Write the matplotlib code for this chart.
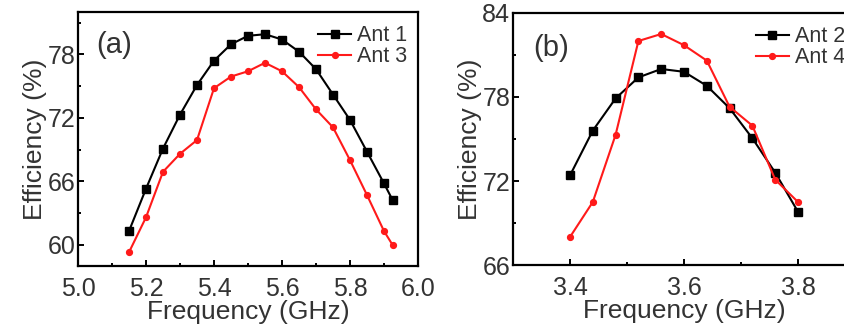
import matplotlib
matplotlib.use("Agg")
import matplotlib.pyplot as plt
from matplotlib.ticker import MultipleLocator

plt.rcParams['font.family'] = ['Liberation Sans', 'DejaVu Sans']

# Panel (a)
freq_a = [5.15, 5.20, 5.25, 5.30, 5.35, 5.40, 5.45, 5.50, 5.55, 5.60, 5.65,
          5.70, 5.75, 5.80, 5.85, 5.90, 5.925]
ant1 = [61.3, 65.3, 69.1, 72.3, 75.1, 77.4, 78.95, 79.75, 79.9, 79.4, 78.25,
        76.6, 74.2, 71.8, 68.8, 65.8, 64.25]
ant3 = [59.3, 62.6, 66.9, 68.6, 69.9, 74.8, 75.9, 76.4, 77.2, 76.4, 74.9,
        72.8, 71.1, 68.0, 64.7, 61.3, 60.0]

# Panel (b)
freq_b = [3.40, 3.44, 3.48, 3.52, 3.56, 3.60, 3.64, 3.68, 3.72, 3.76, 3.80]
ant2 = [72.4, 75.6, 77.9, 79.4, 80.0, 79.8, 78.8, 77.2, 75.05, 72.6, 69.8]
ant4 = [68.0, 70.5, 75.3, 82.0, 82.5, 81.7, 80.6, 77.3, 75.95, 72.1, 70.5]

W, H = 844, 327
fig = plt.figure(figsize=(W / 100, H / 100), dpi=100)

def ax_at(l, r, t, b):
    return fig.add_axes([l / W, 1 - b / H, (r - l) / W, (b - t) / H])

axa = ax_at(78, 418, 12, 266)
axb = ax_at(513, 855, 13, 265)

fs_tick = 18
fs_lab = 19
fs_leg = 15.5
for ax in (axa, axb):
    for s in ax.spines.values():
        s.set_linewidth(1.6)
    ax.tick_params(which='both', direction='in', width=1.4, labelsize=fs_tick,
                   labelcolor='#333333')
    ax.tick_params(which='major', length=4)
    ax.tick_params(which='minor', length=2.5)
    ax.tick_params(axis='x', which='major', pad=8)
    ax.tick_params(axis='y', which='major', pad=2)
    ax.set_xlabel('Frequency (GHz)', fontsize=fs_lab, labelpad=-1, color='#333333')
    ax.set_ylabel('Efficiency (%)', fontsize=fs_lab, labelpad=0, color='#333333')

# (a)
axa.plot(freq_a, ant1, '-s', color='black', lw=1.5, ms=5.8, label='Ant 1')
axa.plot(freq_a, ant3, '-o', color='#ff1a1a', lw=1.5, ms=4.2, label='Ant 3')
axa.set_xlim(5.0, 6.0)
axa.set_ylim(58, 82)
axa.xaxis.set_minor_locator(MultipleLocator(0.1))
axa.set_xticks([5.0, 5.2, 5.4, 5.6, 5.8, 6.0])
axa.set_xticklabels(['5.0', '5.2', '5.4', '5.6', '5.8', '6.0'])
axa.yaxis.set_minor_locator(MultipleLocator(3))
axa.set_yticks([60, 66, 72, 78])
axa.text(0.055, 0.87, '(a)', transform=axa.transAxes, fontsize=21, va='center',
         color='#333333')
axa.legend(loc='upper right', bbox_to_anchor=(1.0, 0.99), frameon=False,
           fontsize=fs_leg, handlelength=1.5, handletextpad=0.3, labelspacing=0.0,
           numpoints=1, borderaxespad=0.1, labelcolor='#333333')

# (b)
axb.plot(freq_b, ant2, '-s', color='black', lw=1.5, ms=5.8, label='Ant 2')
axb.plot(freq_b, ant4, '-o', color='#ff1a1a', lw=1.5, ms=4.2, label='Ant 4')
axb.set_xlim(3.3, 3.9)
axb.set_ylim(66, 84)
axb.xaxis.set_minor_locator(MultipleLocator(0.1))
axb.set_xticks([3.4, 3.6, 3.8])
axb.set_xticklabels(['3.4', '3.6', '3.8'])
axb.yaxis.set_minor_locator(MultipleLocator(3))
axb.set_yticks([66, 72, 78, 84])
axb.text(0.06, 0.86, '(b)', transform=axb.transAxes, fontsize=21, va='center',
         color='#333333')
axb.legend(loc='upper left', bbox_to_anchor=(0.68, 0.99), frameon=False,
           fontsize=fs_leg, handlelength=1.5, handletextpad=0.3, labelspacing=0.0,
           numpoints=1, borderaxespad=0.1, labelcolor='#333333')

fig.savefig('out.png', dpi=100)
